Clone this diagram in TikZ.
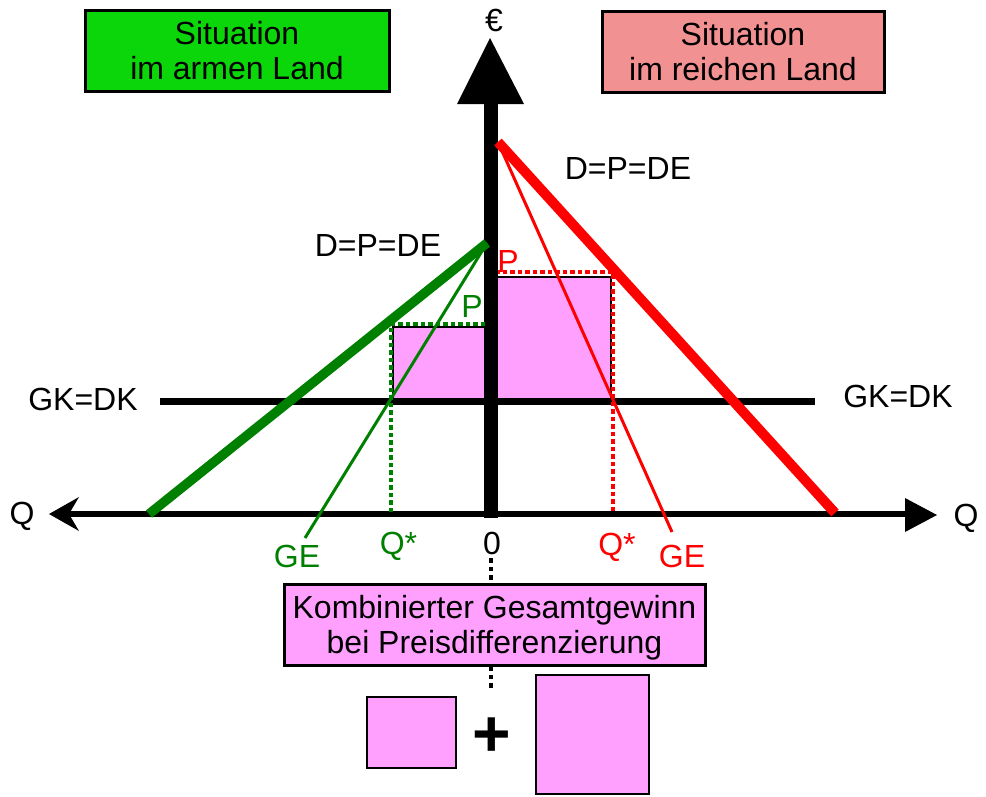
\documentclass[tikz,border=0pt]{standalone}
\usepackage{fontspec}
\setmainfont{Liberation Sans}
\definecolor{dgreen}{RGB}{0,128,0}
\definecolor{boxgreen}{RGB}{10,214,10}
\definecolor{boxred}{RGB}{242,145,145}
\definecolor{pinkfill}{RGB}{255,160,255}
\definecolor{pred}{RGB}{255,0,0}
\begin{document}
\begin{tikzpicture}[x=1pt,y=-1pt,
  lbl/.style={inner sep=0pt, text depth=0pt, font=\fontsize{32}{35}\selectfont},
  titlebox/.style={draw=black, line width=3pt, inner sep=0pt, text depth=0pt, align=center,
    font=\fontsize{32}{35}\selectfont},
  gainrect/.style={draw=black, line width=2pt, fill=pinkfill},
  gdot/.style={dgreen, line width=3.5pt, dash pattern=on 4.5pt off 3pt},
  rdot/.style={pred, line width=3.5pt, dash pattern=on 4.5pt off 3pt},
  kdot/.style={black, line width=3.5pt, dash pattern=on 4.5pt off 4pt},
  thickdem/.style={line width=9.5pt},
  thinge/.style={line width=3pt}]
\useasboundingbox (0,0) rectangle (986,796);

% title boxes
\node[titlebox, fill=boxgreen, minimum width=304pt, minimum height=81pt] (poor) at (237,50.5) {Situation\\im armen Land};
\node[titlebox, fill=boxred, minimum width=282pt, minimum height=81pt] (rich) at (743,51.5) {Situation\\im reichen Land};

% profit rectangles in the graph
\fill[pinkfill] (393,327) rectangle (485,398);
\draw[black, line width=2pt] (485,327) -- (393,327) -- (393,398);
\fill[pinkfill] (498,277) rectangle (611,398);
\draw[black, line width=2pt] (498,277) -- (611,277) -- (611,398);

% GK=DK line
\coordinate (gkl) at (160,401);
\coordinate (gkr) at (815,401);
\draw[line width=7pt] (gkl) -- (gkr);
\node[lbl] (gkdkL) at (83,399) {GK=DK};
\node[lbl] (gkdkR) at (898,396) {GK=DK};

% axes
\coordinate (vb) at (491,518);
\coordinate (vt) at (491,103);
\draw[line width=14pt] (vb) -- (vt);
\coordinate (vhl) at (457,104);
\coordinate (vtip) at (490,38);
\coordinate (vhr) at (524,104);
\fill (vhl) -- (vtip) -- (vhr) -- cycle;

\coordinate (hl) at (62,514);
\coordinate (hr) at (908,514);
\draw[line width=6pt] (hl) -- (hr);
\coordinate (rtip) at (937,515);
\fill (905,498) -- (rtip) -- (905,532) -- cycle;
\coordinate (ltip) at (49,514);
\fill (ltip) -- (79,497) -- (69,514) -- (79,531) -- cycle;

% dotted guides
\coordinate (gq) at (391,512);
\coordinate (gc) at (391,324);
\coordinate (gp) at (485,324);
\draw[gdot] (gq) -- (gc) -- (gp);
\coordinate (rq) at (613,511);
\coordinate (rc) at (613,272);
\coordinate (rp) at (498,272);
\draw[rdot] (rq) -- (rc) -- (rp);

% green (poor country) curves
\coordinate (gtop) at (487,243);
\coordinate (gdem) at (149,514);
\coordinate (gge) at (305,538);
\draw[dgreen, thickdem] (gdem) -- (gtop);
\draw[dgreen, thinge] (gtop) -- (gge);

% red (rich country) curves
\coordinate (rtop) at (498,142);
\coordinate (rdem) at (835,513);
\coordinate (rge) at (672,532);
\draw[pred, thickdem, line width=10pt] (rtop) -- (rdem);
\draw[pred, thinge] (rtop) -- (rge);

% labels
\node[lbl] (euro) at (494,20) {€};
\node[lbl] (qL) at (22,513) {Q};
\node[lbl] (qR) at (966,515) {Q};
\node[lbl] (dpdeL) at (378,245) {D=P=DE};
\node[lbl] (dpdeR) at (628,168) {D=P=DE};
\node[lbl, text=dgreen] (pG) at (472,306) {P};
\node[lbl, text=pred] (pR) at (508,261) {P};
\node[lbl, text=dgreen] (qsG) at (398.5,543) {Q*};
\node[lbl, text=dgreen] (geG) at (297,556) {GE};
\node[lbl, text=pred] (qsR) at (617,544) {Q*};
\node[lbl, text=pred] (geR) at (682,556) {GE};
\node[lbl] (zero) at (492,543) {0};

% combined profit
\node[titlebox, fill=pinkfill, minimum width=421pt, minimum height=81pt] (comb) at (494.5,624.5) {Kombinierter Gesamtgewinn\\bei Preisdifferenzierung};
\coordinate (dz) at (491,558);
\coordinate (dc) at (491,583);
\draw[kdot] (dz) -- (dc);
\coordinate (dc2) at (491,666);
\coordinate (dend) at (491,688);
\draw[kdot] (dc2) -- (dend);

\draw[gainrect] (367,697) rectangle (456,768);
\draw[gainrect] (536,675) rectangle (649,794);
\node[inner sep=0pt, text depth=0pt, font=\bfseries\fontsize{66}{70}\selectfont] (plus) at (492,737) {+};
\end{tikzpicture}
\end{document}
